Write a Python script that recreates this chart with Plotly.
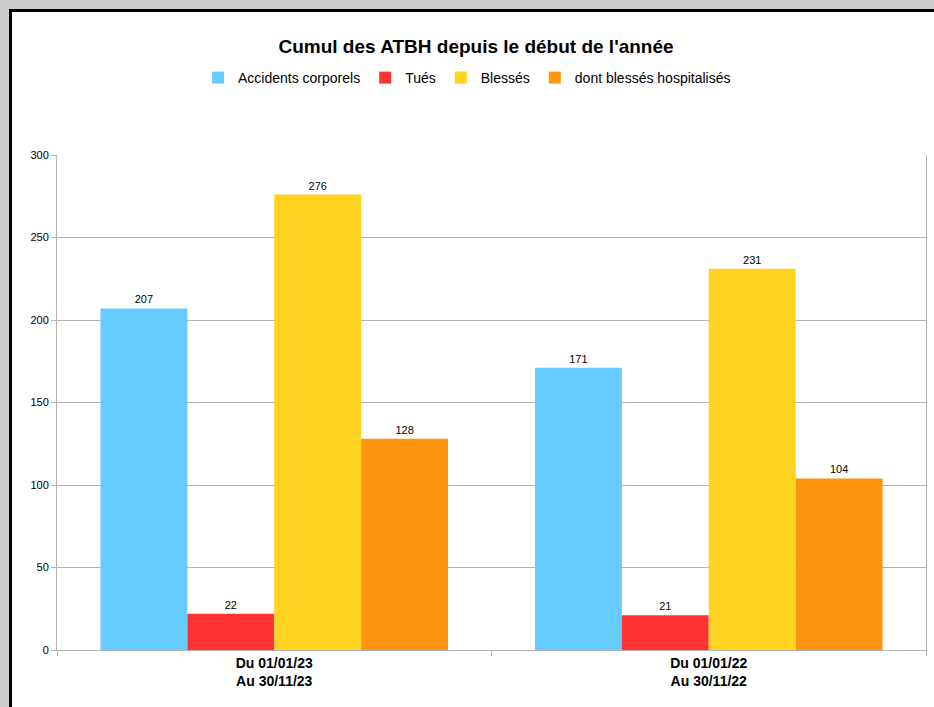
import plotly.graph_objects as go

categories = ["Du 01/01/23<br>Au 30/11/23", "Du 01/01/22<br>Au 30/11/22"]
series_names = ["Accidents corporels", "Tués", "Blessés", "dont blessés hospitalisés"]
accidents = [207, 171]
tues = [22, 21]
blesses = [276, 231]
hospitalises = [128, 104]
colors = ["#66CCFF", "#FF3333", "#FFD320", "#FF950E"]
y_ticks = [0, 50, 100, 150, 200, 250, 300]

W, H = 934, 707
ml, mr, mt, mb = 57, 8, 155, 57
pw, ph = W - ml - mr, H - mt - mb

fig = go.Figure()
for name, vals, col in zip(series_names, [accidents, tues, blesses, hospitalises], colors):
    fig.add_trace(go.Bar(
        x=categories, y=vals, name=name, marker=dict(color=col, line=dict(width=0)),
        text=[str(v) for v in vals], textposition="outside", cliponaxis=False,
        textfont=dict(family="Liberation Sans", size=11, color="#000000"),
    ))

# frame
fx0 = (10.5 - ml) / pw
fy1 = (H - mb - 10.5) / ph
fig.add_shape(type="rect", xref="paper", yref="paper", x0=fx0, x1=1.2, y0=-0.3, y1=fy1,
              fillcolor="white", line=dict(color="black", width=3), layer="below")

fig.update_layout(
    width=W, height=H,
    margin=dict(l=ml, r=mr, t=mt, b=mb),
    paper_bgcolor="#CCCCCC", plot_bgcolor="white",
    barmode="group", bargap=0.2, bargroupgap=0,
    font=dict(family="Liberation Sans", color="#000000"),
    title=dict(text="<b>Cumul des ATBH depuis le début de l'année</b>",
               x=476 / W, xanchor="center", xref="container",
               y=1 - 46 / H, yanchor="middle", yref="container",
               font=dict(size=19, family="Liberation Sans", color="#000000")),
    legend=dict(orientation="h", xref="container", yref="container",
                x=467 / W, xanchor="center", y=1 - 78 / H, yanchor="middle",
                font=dict(size=14, family="Liberation Sans", color="#000000"),
                itemwidth=30, traceorder="normal", bgcolor="rgba(0,0,0,0)"),
    showlegend=True,
)
fig.update_yaxes(range=[0, 300], tickvals=y_ticks, showgrid=True, gridcolor="#B3B3B3",
                 gridwidth=1, showline=True, linecolor="#B3B3B3", linewidth=1, mirror=True,
                 ticks="outside", ticklen=5, tickcolor="#B3B3B3", zeroline=False,
                 tickfont=dict(size=11, family="Liberation Sans", color="#000000"))
fig.update_xaxes(showline=True, linecolor="#B3B3B3", linewidth=1, ticks="outside",
                 tickson="boundaries", ticklen=5, tickcolor="#B3B3B3", showgrid=False,
                 tickfont=dict(size=14, family="Liberation Sans", color="#000000"))
fig.update_xaxes(tickprefix="<b>", ticksuffix="</b>")

fig.write_html("out.html", config={"displayModeBar": False},
               post_script="document.body.style.margin='0';document.body.style.overflow='hidden';")
